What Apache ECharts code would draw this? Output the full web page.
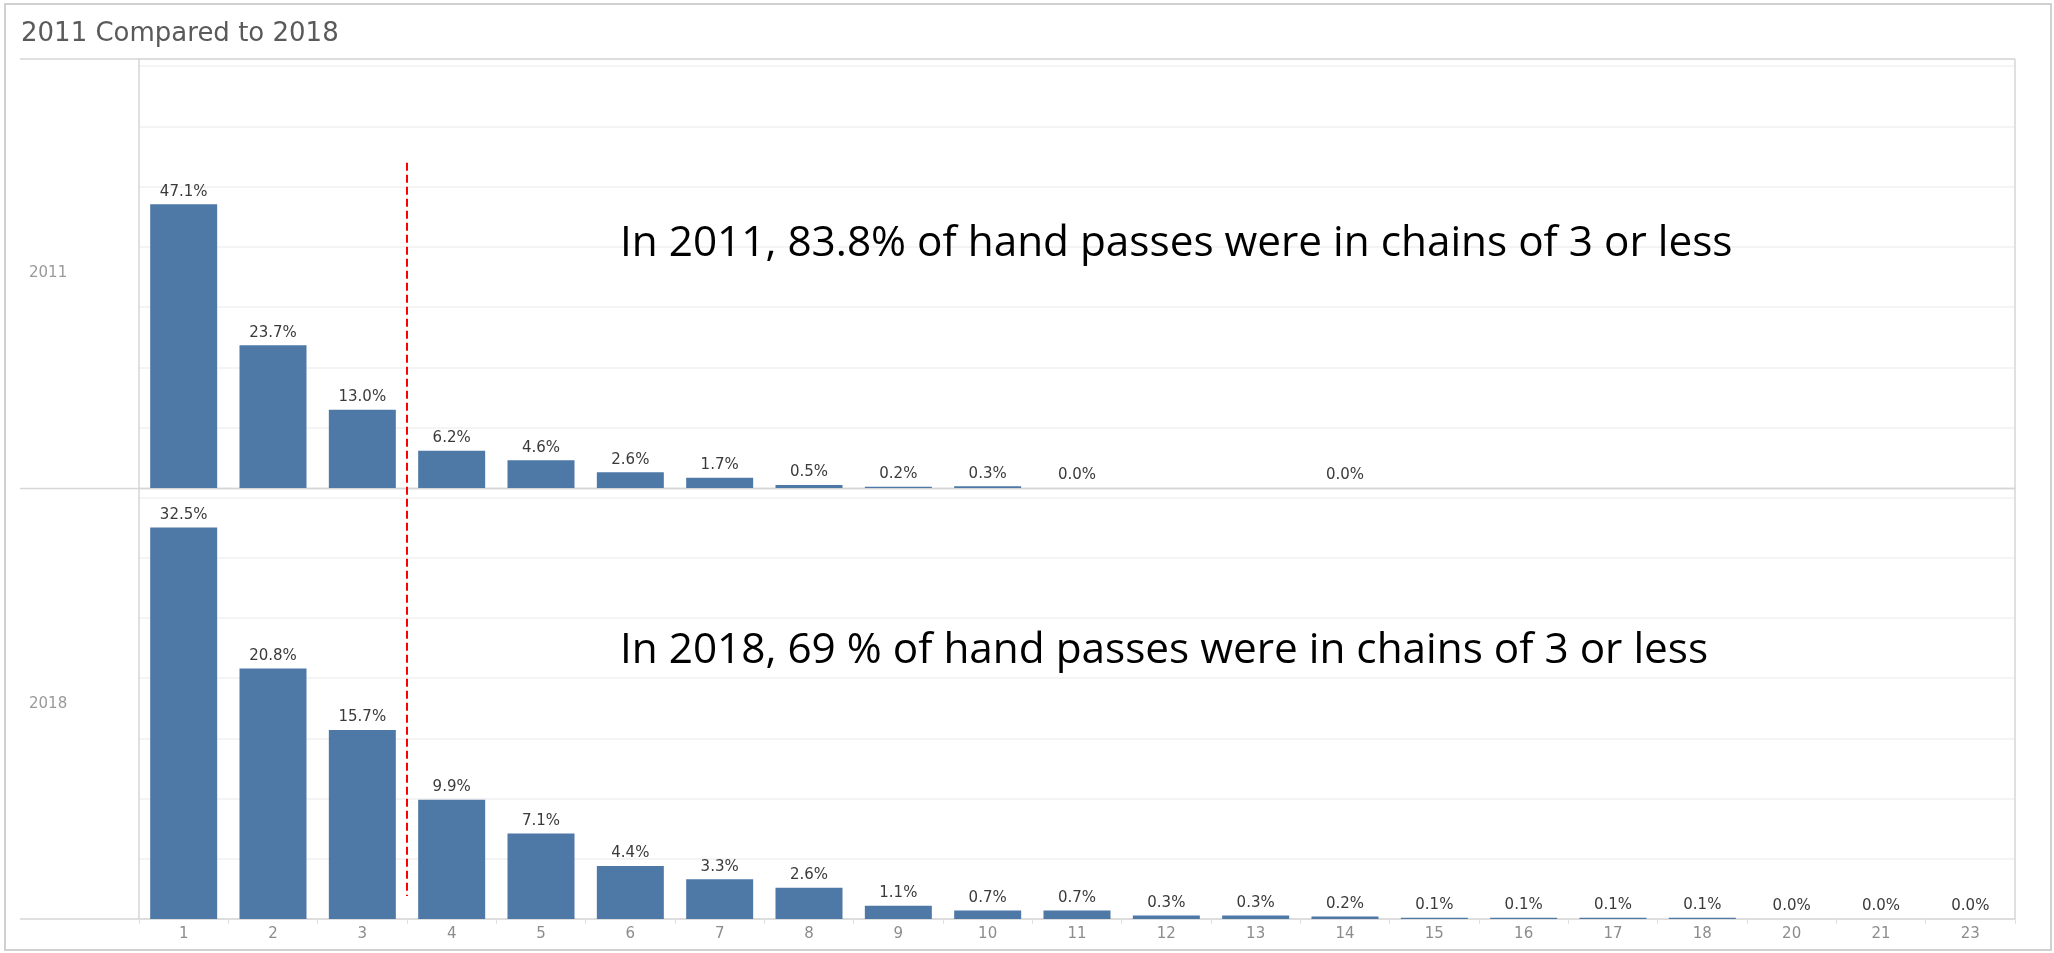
<!DOCTYPE html>
<html>
<head>
<meta charset="utf-8">
<script src="https://cdn.jsdelivr.net/npm/echarts@6/dist/echarts.min.js"></script>
<style>
  html, body { margin: 0; padding: 0; background: #fff; }
  #main { width: 2054px; height: 953px; }
</style>
</head>
<body>
<div id="main"></div>
<script>
var chainLengths = ['1', '2', '3', '4', '5', '6', '7', '8', '9', '10', '11', '12', '13', '14', '15', '16', '17', '18', '20', '21', '23'];
var share2011 = [47.1, 23.7, 13.0, 6.2, 4.6, 2.6, 1.7, 0.5, 0.2, 0.3, 0.0, '-', '-', 0.0, '-', '-', '-', '-', '-', '-', '-'];
var share2018 = [32.5, 20.8, 15.7, 9.9, 7.1, 4.4, 3.3, 2.6, 1.1, 0.7, 0.7, 0.3, 0.3, 0.2, 0.1, 0.1, 0.1, 0.1, 0.0, 0.0, 0.0];
var rowLabels = ['2011', '2018'];
var notes = [
  'In 2011, 83.8% of hand passes were in chains of 3 or less',
  'In 2018, 69 % of hand passes were in chains of 3 or less'
];
var chartTitle = '2011 Compared to 2018';
// dashed divider after chain length 3, spanning from 54% (2011) down to 1.9% (2018)
var dividerAfter = '3';
var dividerTop2011 = 54;
var dividerBottom2018 = 1.9;

var chartDom = document.getElementById('main');
var myChart = echarts.init(chartDom);

var paneLeft = 139, paneRight = 2015;
var top1 = 59, bottom1 = 488, top2 = 489, bottom2 = 919;
var labelFont = 'DejaVu Sans';

function pct(p) {
  return p.value.toFixed(1) + '%';
}

function barSeries(data, idx) {
  return {
    type: 'bar',
    xAxisIndex: idx,
    yAxisIndex: idx,
    data: data,
    barWidth: 67,
    itemStyle: { color: '#4e79a7' },
    label: {
      show: true,
      position: 'top',
      distance: 5,
      formatter: pct,
      fontFamily: labelFont,
      fontSize: 15,
      color: '#3a3a3a'
    }
  };
}

var option = {
  animation: false,
  grid: [
    { left: paneLeft, width: paneRight - paneLeft, top: top1, height: bottom1 - top1 },
    { left: paneLeft, width: paneRight - paneLeft, top: top2, height: bottom2 - top2 }
  ],
  xAxis: [
    {
      type: 'category', gridIndex: 0, data: chainLengths,
      axisLine: { show: false }, axisTick: { show: false }, axisLabel: { show: false }
    },
    {
      type: 'category', gridIndex: 1, data: chainLengths,
      axisLine: { show: false },
      axisTick: { show: true, length: 5, interval: 0, lineStyle: { color: '#e0e0e0' } },
      axisLabel: { interval: 0, margin: 8, fontFamily: labelFont, fontSize: 15, color: '#8c8c8c' }
    }
  ],
  yAxis: [
    {
      type: 'value', gridIndex: 0, min: 0, max: 71.2, interval: 10,
      axisLine: { show: true, lineStyle: { color: '#d6d6d6', width: 1.5 } },
      axisTick: { show: false }, axisLabel: { show: false },
      splitLine: { lineStyle: { color: '#f0f0f0', width: 1.5 } }
    },
    {
      type: 'value', gridIndex: 1, min: 0, max: 35.7, interval: 5,
      axisLine: { show: true, lineStyle: { color: '#d6d6d6', width: 1.5 } },
      axisTick: { show: false }, axisLabel: { show: false },
      splitLine: { lineStyle: { color: '#f0f0f0', width: 1.5 } }
    }
  ],
  series: [barSeries(share2011, 0), barSeries(share2018, 1)]
};

option && myChart.setOption(option);

// frame, headers and notes
var lineStyle = { stroke: '#d6d6d6', lineWidth: 1.5 };
var xs = myChart.convertToPixel({ xAxisIndex: 0 }, dividerAfter);
var xNext = myChart.convertToPixel({ xAxisIndex: 0 }, chainLengths[chainLengths.indexOf(dividerAfter) + 1]);
var xDiv = (xs + xNext) / 2;
var yDivTop = myChart.convertToPixel({ yAxisIndex: 0 }, dividerTop2011);
var yDivBottom = myChart.convertToPixel({ yAxisIndex: 1 }, dividerBottom2018);

myChart.setOption({
  graphic: [
    { type: 'rect', shape: { x: 5, y: 4, width: 2046, height: 946 }, style: { fill: 'none', stroke: '#d0d0d0', lineWidth: 2 } },
    { type: 'text', x: 21, y: 34, style: { text: chartTitle, font: '26px "DejaVu Sans"', fill: '#5a5a5a', verticalAlign: 'middle' } },
    { type: 'line', shape: { x1: 20, y1: top1, x2: paneRight, y2: top1 }, style: lineStyle },
    { type: 'line', shape: { x1: 20, y1: bottom1 + 0.5, x2: paneRight, y2: bottom1 + 0.5 }, style: lineStyle },
    { type: 'line', shape: { x1: 20, y1: bottom2, x2: paneRight, y2: bottom2 }, style: lineStyle },
    { type: 'line', shape: { x1: paneRight, y1: top1, x2: paneRight, y2: bottom2 }, style: lineStyle },
    { type: 'text', x: 29, y: (top1 + bottom1) / 2, style: { text: rowLabels[0], font: '15px "DejaVu Sans"', fill: '#9a9a9a', verticalAlign: 'middle' } },
    { type: 'text', x: 29, y: (top2 + bottom2) / 2, style: { text: rowLabels[1], font: '15px "DejaVu Sans"', fill: '#9a9a9a', verticalAlign: 'middle' } },
    { type: 'text', x: 620, y: 244, style: { text: notes[0], font: '42.3px "Open Sans"', fill: '#000', verticalAlign: 'middle' } },
    { type: 'text', x: 620, y: 651, style: { text: notes[1], font: '42.3px "Open Sans"', fill: '#000', verticalAlign: 'middle' } },
    { type: 'line', shape: { x1: xDiv, y1: yDivTop, x2: xDiv, y2: yDivBottom }, style: { stroke: '#ff0000', lineWidth: 2, lineDash: [8, 4] } }
  ]
});
</script>
</body>
</html>
